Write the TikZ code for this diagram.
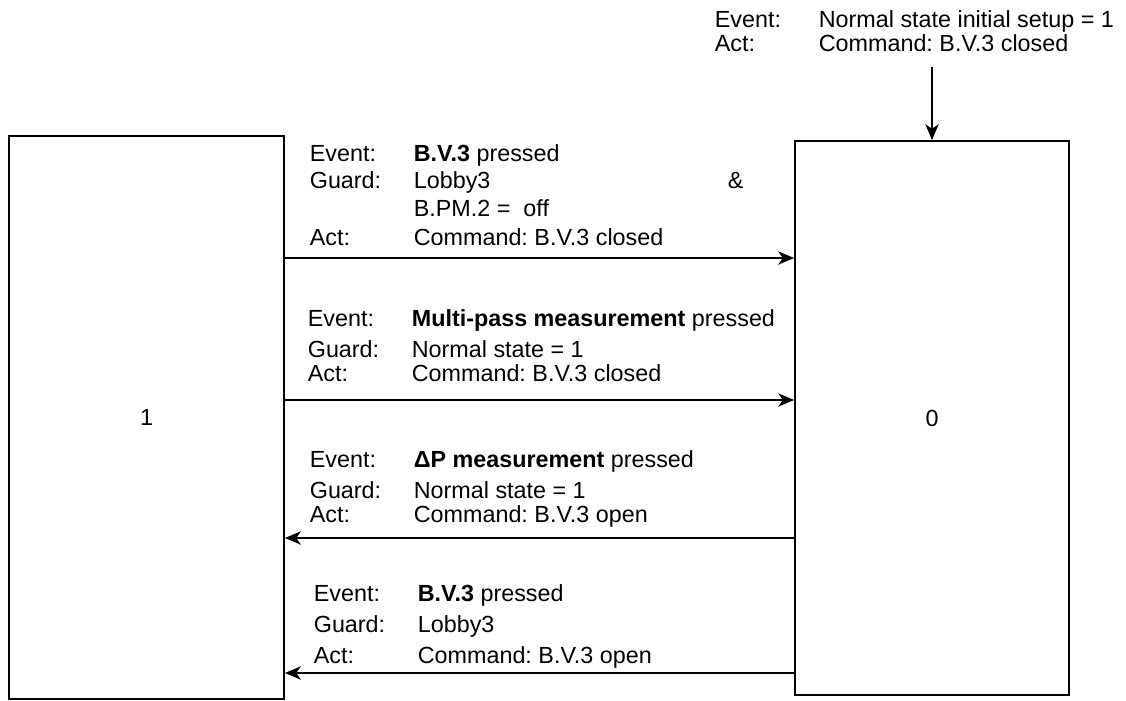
\documentclass[tikz,border=0pt]{standalone}
\usepackage{fontspec}
\setmainfont{Liberation Sans}
\usetikzlibrary{arrows.meta}
\frenchspacing
\newcommand{\key}[1]{\makebox[78pt][l]{#1}}

\begin{document}
\begin{tikzpicture}[x=0.75pt, y=-0.75pt, font=\fontsize{17.5}{20}\selectfont, line width=1.3pt,
        state/.style={draw, rectangle, inner sep=0pt},
        txt/.style={anchor=base west, inner sep=0pt},
        trans/.style={-{Stealth[length=12pt,width=10pt,inset=3.5pt]}}]
    \useasboundingbox (0,0) rectangle (1126,700);
    \node[state, minimum width=206.25pt, minimum height=422.25pt] (s1) at (146.5,417.5) {1};
    \node[state, minimum width=205.5pt, minimum height=415.5pt] (s0) at (932,418) {0};
    \coordinate (init) at (932,67);

    \node[txt] (ei) at (714,27) {\key{Event:}Normal state initial setup = 1};
    \node[txt] (ai) at (714,51) {\key{Act:}Command: B.V.3 closed};
    \draw[trans] (init) -- (s0);

    \node[txt] (e1) at (309,161) {\key{Event:}\textbf{B.V.3} pressed};
    \node[txt] (g1) at (309,188) {\key{Guard:}Lobby3};
    \node[txt] (and1) at (727,188) {\&};
    \node[txt] (b1) at (309,216) {\key{}B.PM.2 =\ \ off};
    \node[txt] (a1) at (309,245) {\key{Act:}Command: B.V.3 closed};
    \draw[trans] (s1.east |- {(0,258)}) -- (s0.west |- {(0,258)});

    \node[txt] (e2) at (307,326) {\key{Event:}\textbf{Multi-pass measurement} pressed};
    \node[txt] (g2) at (307,357) {\key{Guard:}Normal state = 1};
    \node[txt] (a2) at (307,381) {\key{Act:}Command: B.V.3 closed};
    \draw[trans] (s1.east |- {(0,400)}) -- (s0.west |- {(0,400)});

    \node[txt] (e3) at (309,467) {\key{Event:}\textbf{ΔP measurement} pressed};
    \node[txt] (g3) at (309,498) {\key{Guard:}Normal state = 1};
    \node[txt] (a3) at (309,522) {\key{Act:}Command: B.V.3 open};
    \draw[trans] (s0.west |- {(0,538)}) -- (s1.east |- {(0,538)});

    \node[txt] (e4) at (313,601) {\key{Event:}\textbf{B.V.3} pressed};
    \node[txt] (g4) at (313,632) {\key{Guard:}Lobby3};
    \node[txt] (a4) at (313,663) {\key{Act:}Command: B.V.3 open};
    \draw[trans] (s0.west |- {(0,673)}) -- (s1.east |- {(0,673)});
\end{tikzpicture}
\end{document}
